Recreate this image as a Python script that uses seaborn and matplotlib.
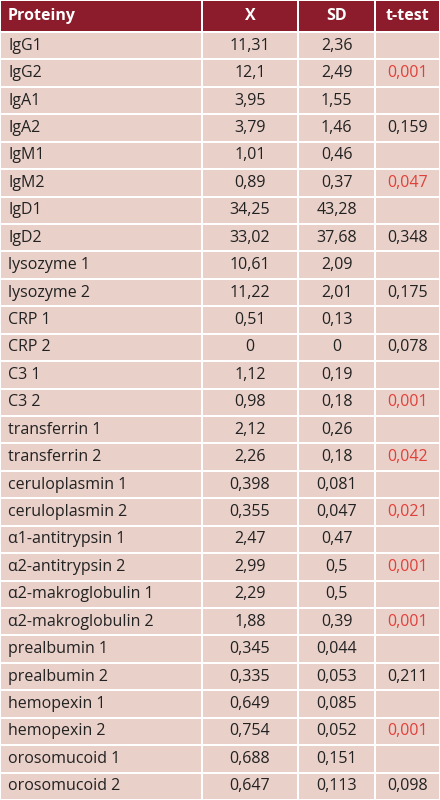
import numpy as np
import seaborn as sns
import matplotlib.pyplot as plt
from matplotlib.colors import ListedColormap

sns.set_theme(style='white')
plt.rcParams['font.family'] = ['Open Sans', 'DejaVu Sans']

header = ['Proteiny', 'X', 'SD', 't-test']
proteiny = ['IgG1', 'IgG2', 'IgA1', 'IgA2', 'IgM1', 'IgM2', 'IgD1', 'IgD2',
            'lysozyme 1', 'lysozyme 2', 'CRP 1', 'CRP 2', 'C3 1', 'C3 2',
            'transferrin 1', 'transferrin 2', 'ceruloplasmin 1', 'ceruloplasmin 2',
            'α1-antitrypsin 1', 'α2-antitrypsin 2', 'α2-makroglobulin 1',
            'α2-makroglobulin 2', 'prealbumin 1', 'prealbumin 2', 'hemopexin 1',
            'hemopexin 2', 'orosomucoid 1', 'orosomucoid 2']
x_vals = ['11,31', '12,1', '3,95', '3,79', '1,01', '0,89', '34,25', '33,02',
          '10,61', '11,22', '0,51', '0', '1,12', '0,98', '2,12', '2,26',
          '0,398', '0,355', '2,47', '2,99', '2,29', '1,88', '0,345', '0,335',
          '0,649', '0,754', '0,688', '0,647']
sd_vals = ['2,36', '2,49', '1,55', '1,46', '0,46', '0,37', '43,28', '37,68',
           '2,09', '2,01', '0,13', '0', '0,19', '0,18', '0,26', '0,18',
           '0,081', '0,047', '0,47', '0,5', '0,5', '0,39', '0,044', '0,053',
           '0,085', '0,052', '0,151', '0,113']
ttest = ['', '0,001', '', '0,159', '', '0,047', '', '0,348', '', '0,175', '',
         '0,078', '', '0,001', '', '0,042', '', '0,021', '', '0,001', '',
         '0,001', '', '0,211', '', '0,001', '', '0,098']
signif = ['', '0,001', '', '', '', '0,047', '', '', '', '', '', '', '', '0,001',
          '', '0,042', '', '0,021', '', '0,001', '', '0,001', '', '', '', '0,001', '', '']

W, H = 440, 800
head_h = 32
n = len(proteiny)
xedges = np.array([0, 202, 298, 375, 440])
yedges = np.concatenate([[0], head_h + np.arange(n + 1) * (H - head_h) / n])

fig = plt.figure(figsize=(4.4, 8.0), dpi=100)
ax = fig.add_axes([0, 0, 1, 1])
vals = np.ones((n + 1, 4))
vals[0, :] = 0
ax.pcolormesh(xedges, yedges, vals, cmap=ListedColormap(['#8c1c2b', '#e9d0c9']),
              edgecolors='white', linewidth=1.2)
ax.set_xlim(0, W)
ax.set_ylim(H, 0)
ax.axis('off')

centers = (xedges[:-1] + xedges[1:]) / 2
fs = 11.5
yc = head_h / 2
ax.text(8, yc, header[0], color='white', weight='bold', fontsize=fs, va='center')
for j in range(1, 4):
    ax.text(centers[j], yc, header[j], color='white', weight='bold', fontsize=fs,
            va='center', ha='center')

for i in range(n):
    y = (yedges[i + 1] + yedges[i + 2]) / 2
    ax.text(8, y, proteiny[i], fontsize=fs, va='center', color='#222222')
    ax.text(centers[1], y, x_vals[i], fontsize=fs, va='center', ha='center', color='#222222')
    ax.text(centers[2], y, sd_vals[i], fontsize=fs, va='center', ha='center', color='#222222')
    col = '#e0403a' if signif[i] else '#222222'
    ax.text(centers[3], y, ttest[i], fontsize=fs, va='center', ha='center', color=col)

fig.savefig('out.png', dpi=100)
